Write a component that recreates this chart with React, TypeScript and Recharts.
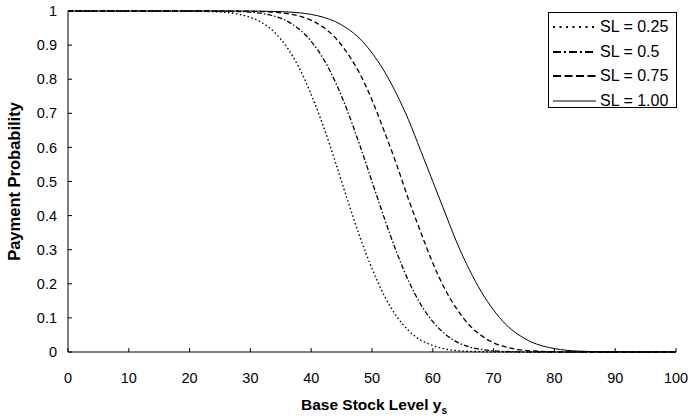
import React from 'react';
import { LineChart, Line, XAxis, YAxis, Legend } from 'recharts';

const xValues = [0, 10, 20, 22, 24, 26, 28, 30, 32, 34, 36, 38, 40, 42, 44, 46, 48, 50, 52, 54, 56, 58, 60, 62, 64, 66, 68, 70, 72, 74, 76, 78, 80, 82, 84, 86, 88, 90, 100];

const sl025 = [1, 1, 0.9997, 0.9993, 0.9982, 0.9959, 0.9909, 0.9812, 0.9648, 0.937, 0.894, 0.834, 0.755, 0.662, 0.556, 0.444, 0.338, 0.245, 0.166, 0.106, 0.063, 0.035, 0.019, 0.009, 0.004, 0.002, 0.001, 0, 0, 0, 0, 0, 0, 0, 0, 0, 0, 0, 0];
const sl050 = [1, 1, 1, 1, 0.9998, 0.9994, 0.9985, 0.9965, 0.9925, 0.9846, 0.9706, 0.947, 0.911, 0.86, 0.791, 0.705, 0.606, 0.5, 0.394, 0.295, 0.209, 0.14, 0.089, 0.053, 0.029, 0.015, 0.0075, 0.0035, 0.0015, 0.0006, 0, 0, 0, 0, 0, 0, 0, 0, 0];
const sl075 = [1, 1, 1, 1, 1, 0.9999, 0.9997, 0.9993, 0.9984, 0.9964, 0.9927, 0.9854, 0.9726, 0.9525, 0.921, 0.875, 0.816, 0.739, 0.648, 0.552, 0.448, 0.352, 0.261, 0.184, 0.125, 0.079, 0.048, 0.027, 0.015, 0.007, 0.0036, 0.0016, 0.0007, 0, 0, 0, 0, 0, 0];
const sl100 = [1, 1, 1, 1, 1, 1, 0.9999, 0.9998, 0.9994, 0.9987, 0.9974, 0.9948, 0.99, 0.9817, 0.9686, 0.948, 0.919, 0.877, 0.824, 0.758, 0.681, 0.591, 0.5, 0.409, 0.319, 0.242, 0.176, 0.123, 0.081, 0.052, 0.031, 0.018, 0.01, 0.005, 0.0026, 0.0013, 0.0006, 0.0002, 0];

const xTicks = [0, 10, 20, 30, 40, 50, 60, 70, 80, 90, 100];
const yTicks = [0, 0.1, 0.2, 0.3, 0.4, 0.5, 0.6, 0.7, 0.8, 0.9, 1];

const seriesNames = ['SL = 0.25', 'SL = 0.5', 'SL = 0.75', 'SL = 1.00'];
const seriesKeys = ['sl025', 'sl050', 'sl075', 'sl100'];

const data = xValues.map((x, i) => ({
  x,
  sl025: sl025[i],
  sl050: sl050[i],
  sl075: sl075[i],
  sl100: sl100[i],
}));

const FONT = 'Liberation Sans, Arial, Helvetica, sans-serif';

const plotDash: Record<string, string | undefined> = {
  sl025: '1.5 2.5',
  sl050: '5 2 1.5 2',
  sl075: '5 3',
  sl100: undefined,
};
const plotWidth: Record<string, number> = { sl025: 1.4, sl050: 1.3, sl075: 1.3, sl100: 1 };
const legendDash: Record<string, string | undefined> = {
  sl025: '2 4.5',
  sl050: '8 3 2 3',
  sl075: '8 3.5',
  sl100: undefined,
};

const LegendBox = (props: any) => {
  const payload = props.payload || [];
  return (
    <div
      style={{
        width: 129,
        height: 96,
        boxSizing: 'border-box',
        border: '1px solid #000',
        background: '#fff',
        padding: '2px 0 0 4px',
        fontFamily: FONT,
      }}
    >
      {payload.map((entry: any) => (
        <div key={entry.value} style={{ display: 'flex', alignItems: 'center', height: 24.5 }}>
          <svg width={43} height={6} style={{ display: 'block' }}>
            <line
              x1={0}
              y1={3}
              x2={43}
              y2={3}
              stroke={entry.dataKey === 'sl100' ? '#555' : '#000'}
              strokeWidth={entry.dataKey === 'sl100' ? 1.5 : 2}
              strokeDasharray={legendDash[entry.dataKey]}
            />
          </svg>
          <span style={{ marginLeft: 4, fontSize: 16, lineHeight: 1, color: '#000' }}>{entry.value}</span>
        </div>
      ))}
    </div>
  );
};

const YLabel = (props: any) => {
  const vb = props.viewBox || {};
  const cx = vb.x + 14;
  const cy = vb.y + vb.height / 2;
  return (
    <text
      x={cx}
      y={cy}
      transform={`rotate(-90 ${cx} ${cy})`}
      textAnchor="middle"
      dominantBaseline="central"
      fontFamily={FONT}
      fontSize={16.5}
      fontWeight="bold"
      fill="#000"
    >
      Payment Probability
    </text>
  );
};

const XLabel = (props: any) => {
  const vb = props.viewBox || {};
  const cx = vb.x + vb.width / 2 + 2;
  const by = vb.y + 58;
  return (
    <text x={cx} y={by} textAnchor="middle" fontFamily={FONT} fontSize={15.5} fontWeight="bold" fill="#000">
      Base Stock Level y
      <tspan fontSize={10} dy={4}>s</tspan>
    </text>
  );
};

export default function App() {
  return (
    <div style={{ position: 'absolute', left: 0, top: 0, width: 691, height: 419, background: '#fff' }}>
      <LineChart width={691} height={419} data={data} margin={{ top: 11, right: 15, bottom: 0, left: 0 }}>
        <XAxis
          dataKey="x"
          type="number"
          domain={[0, 100]}
          ticks={xTicks}
          height={67}
          tickSize={-4}
          tickMargin={25}
          stroke="#000"
          tick={{ fontSize: 14.5, fill: '#000', fontFamily: FONT }}
          axisLine={{ stroke: '#000', strokeWidth: 1 }}
          tickLine={{ stroke: '#000' }}
          interval={0}
          label={{ content: XLabel }}
        />
        <YAxis
          type="number"
          domain={[0, 1]}
          ticks={yTicks}
          width={68}
          tickSize={-4}
          tickMargin={15}
          stroke="#000"
          tick={{ fontSize: 14.5, fill: '#000', fontFamily: FONT }}
          axisLine={{ stroke: '#000', strokeWidth: 1 }}
          tickLine={{ stroke: '#000' }}
          interval={0}
          tickFormatter={(v: number) => String(Math.round(v * 10) / 10)}
          label={{ content: YLabel }}
        />
        <Legend
          layout="vertical"
          align="center"
          verticalAlign="middle"
          wrapperStyle={{ left: 548, top: 12, width: 'auto' }}
          content={LegendBox}
        />
        {seriesKeys.map((k, i) => (
          <Line
            key={k}
            type="monotone"
            dataKey={k}
            name={seriesNames[i]}
            stroke="#000"
            strokeWidth={plotWidth[k]}
            strokeDasharray={plotDash[k]}
            dot={false}
            activeDot={false}
            isAnimationActive={false}
          />
        ))}
      </LineChart>
    </div>
  );
}
